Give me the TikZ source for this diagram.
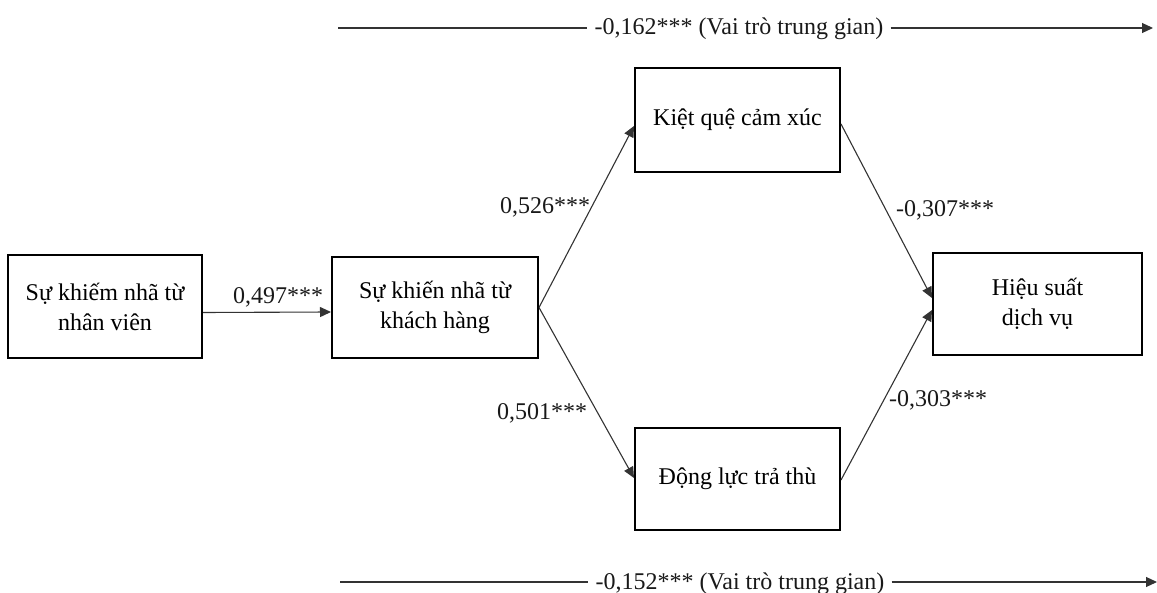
\documentclass[tikz,border=0pt]{standalone}
\usepackage{fontspec}
\setmainfont{Liberation Serif}
\usetikzlibrary{arrows.meta,calc}
\begin{document}
\begin{tikzpicture}[x=0.5pt,y=-0.5pt,
  font=\fontsize{12pt}{15pt}\selectfont,
  box/.style={draw=black,line width=1pt,align=center,inner sep=0pt},
  conn/.style={draw=black!80,line width=0.55pt,-{Triangle[length=5.5pt,width=5pt]}},
  plain/.style={draw=black!80,line width=0.55pt},
  lbl/.style={inner sep=0pt,text=black!90}]
\useasboundingbox (0,0) rectangle (1157,593);

% construct boxes
\node[box,minimum width=97pt,minimum height=51.5pt] (b1) at (105,306.5) {Sự khiếm nhã từ\\nhân viên};
\node[box,minimum width=103pt,minimum height=50.5pt] (b2) at (435,307.5) {Sự khiến nhã từ\\khách hàng};
\node[box,minimum width=102.5pt,minimum height=52pt] (b3) at (737.5,120) {Kiệt quệ cảm xúc};
\node[box,minimum width=102.5pt,minimum height=51pt] (b4) at (737.5,479) {Động lực trả thù};
\node[box,minimum width=104.5pt,minimum height=51pt] (b5) at (1037.5,304) {Hiệu suất\\dịch vụ};

% direct paths
\draw[conn] ($(b1.east)+(0,6)$) -- ($(b2.west)+(0,4.5)$);
\draw[conn] (b2.east) -- ($(b3.west)+(0,6)$);
\draw[conn] (b2.east) -- ($(b4.west)+(0,-1)$);
\draw[conn] ($(b3.east)+(0,4)$) -- ($(b5.west)+(0,-6)$);
\draw[conn] ($(b4.east)+(0,1)$) -- ($(b5.west)+(0,6)$);

% path coefficients
\node[lbl] (l1) at (278,297) {0,497***};
\node[lbl] (l2) at (545,207) {0,526***};
\node[lbl] (l3) at (542,413) {0,501***};
\node[lbl] (l4) at (945,210) {-0,307***};
\node[lbl] (l5) at (938,400) {-0,303***};

% indirect effects
\coordinate (t1) at (338,28);
\coordinate (t2) at (1153,28);
\node[lbl,inner xsep=3.5pt] (tl) at (739,29) {-0,162*** (Vai trò trung gian)};
\draw[plain] (t1) -- (t1 -| tl.west);
\draw[conn] (t2 -| tl.east) -- (t2);

\coordinate (u1) at (340,582);
\coordinate (u2) at (1157,582);
\node[lbl,inner xsep=3.5pt] (ul) at (740,584) {-0,152*** (Vai trò trung gian)};
\draw[plain] (u1) -- (u1 -| ul.west);
\draw[conn] (u2 -| ul.east) -- (u2);
\end{tikzpicture}
\end{document}
